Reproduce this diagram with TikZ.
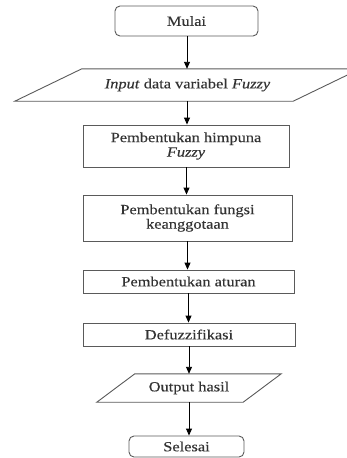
\documentclass[tikz,border=0pt]{standalone}
\usepackage{fontspec}
\setmainfont[FakeStretch=1.17,FakeBold=0.3]{Liberation Serif}
\usetikzlibrary{arrows.meta,calc}
\definecolor{edgec}{HTML}{5A5A5A}
\definecolor{textc}{HTML}{333333}
\tikzset{
  procbox/.style={draw=edgec, line width=0.9pt, rectangle, inner sep=0pt, text=textc,
    font=\fontsize{14}{14.5}\selectfont, align=center},
  termbox/.style={procbox, rounded corners=5pt},
  iobox/.style={rectangle, inner sep=0pt, text=textc,
    font=\fontsize{14}{14.5}\selectfont, align=center},
  ioedge/.style={draw=edgec, line width=0.9pt},
  flow/.style={draw=black, line width=0.9pt, -{Triangle[width=6pt,length=7pt]}}
}
\begin{document}
\begin{tikzpicture}[x=1pt,y=-1pt]
\useasboundingbox (0,0) rectangle (347,458);
\node[termbox, minimum width=143pt, minimum height=30pt] (start) at (186.5,21) {Mulai};
\node[iobox, minimum width=278pt, minimum height=32pt] (input) at (187.5,85) {\textit{Input} data variabel \textit{Fuzzy}};
\draw[ioedge] ([xshift=33.5pt]input.north west) -- ([xshift=33.5pt]input.north east)
  -- ([xshift=-33.5pt]input.south east) -- ([xshift=-33.5pt]input.south west) -- cycle;
\node[procbox, minimum width=206pt, minimum height=42pt] (himp) at (186,146) {Pembentukan himpuna\\\textit{Fuzzy}};
\node[procbox, minimum width=209pt, minimum height=46pt] (fung) at (187.5,218) {Pembentukan fungsi\\keanggotaan};
\node[procbox, minimum width=211pt, minimum height=23pt] (atur) at (188.5,281.5) {Pembentukan aturan};
\node[procbox, minimum width=212pt, minimum height=23pt] (defz) at (189,334.5) {Defuzzifikasi};
\node[iobox, minimum width=146pt, minimum height=28pt] (out) at (189,388) {Output hasil};
\draw[ioedge] ([xshift=19pt]out.north west) -- ([xshift=19pt]out.north east)
  -- ([xshift=-19pt]out.south east) -- ([xshift=-19pt]out.south west) -- cycle;
\node[termbox, minimum width=115pt, minimum height=21pt] (end) at (186.5,446.5) {Selesai};
\draw[flow] ([xshift=0.5pt]start.south) -- ([xshift=0.5pt]start.south |- input.north);
\draw[flow] ([xshift=-0.5pt]input.south) -- ([xshift=-0.5pt]input.south |- himp.north);
\draw[flow] ([xshift=0.5pt]himp.south) -- ([xshift=0.5pt]himp.south |- fung.north);
\draw[flow] (fung.south) -- (fung.south |- atur.north);
\draw[flow] (atur.south) -- (atur.south |- defz.north);
\draw[flow] (defz.south) -- (defz.south |- out.north);
\draw[flow] (out.south) -- (out.south |- end.north);
\end{tikzpicture}
\end{document}
